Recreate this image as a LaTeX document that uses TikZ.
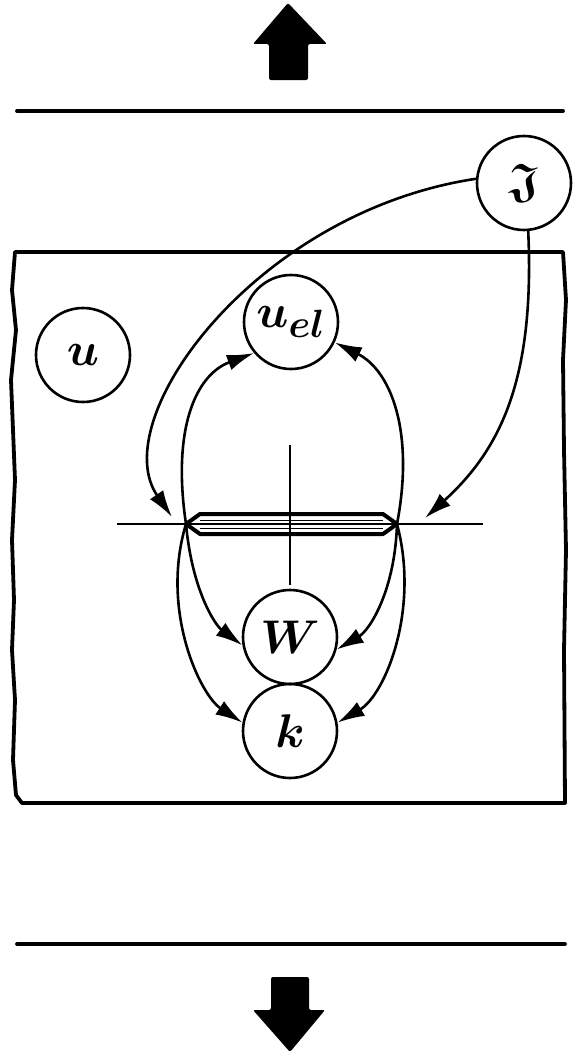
\documentclass[tikz,border=0pt]{standalone}
\usepackage{amssymb}
\usepackage{graphicx}
\usetikzlibrary{arrows.meta}
\newcommand{\statelbl}[1]{\scalebox{1.9}{$#1$}}

\begin{document}
\begin{tikzpicture}[x=1pt, y=-1pt,
    state/.style={draw, circle, line width=2.6pt, minimum size=94pt, inner sep=0pt, font=\Huge\boldmath},
    flow/.style={line width=2.6pt, -{Latex[length=27pt, width=16pt]}},
    bigarrow/.style={fill=black, rounded corners=2pt}]
    \useasboundingbox (0,0) rectangle (573,1057);
    % heat in / heat out
    \fill[bigarrow] (288,3) -- (327,44) -- (308,44) -- (308,80) -- (269,80) -- (269,44) -- (253,44) -- cycle;
    \draw[line width=3.8pt, line cap=round] (17,111) -- (563,111);
    \draw[line width=3.8pt, line cap=round] (17,944) -- (565,944);
    \fill[bigarrow] (290,1052) -- (253,1010) -- (271,1010) -- (271,977) -- (309,977) -- (309,1010) -- (325,1010) -- cycle;
    % the box
    \draw[line width=3.8pt, line join=round] (563,252) -- (15,252) -- (12,290) -- (16,330) -- (11,380) -- (13,430)
        -- (15,480) -- (12,540) -- (14,600) -- (12,650) -- (15,700) -- (13,760) -- (16,795) -- (22,803)
        -- (565,803) -- (564,650) -- (566,550) -- (564,450) -- (563,360) -- (566,300) -- cycle;
    % states
    \node[state] (J) at (524,183) {\statelbl{\mathfrak{J}}};
    \node[state] (U) at (83,355) {\statelbl{u}};
    \node[state] (Uel) at (291,322) {\statelbl{u_{el}}};
    \node[state] (W) at (290,637) {\statelbl{W}};
    \node[state] (k) at (290,731) {\statelbl{k}};
    % the bar
    \coordinate (capL) at (186,524);
    \coordinate (capR) at (397,524);
    \coordinate (jL) at (172,517);
    \coordinate (jR) at (425,518);
    \draw[line width=2pt] (117,524) -- (483,524);
    \draw[line width=2pt] (290,445) -- (290,585);
    \draw[line width=4pt, line join=round] (capL) -- (200,514) -- (383,514) -- (capR) -- (383,534) -- (200,534) -- cycle;
    \draw[line width=1pt] (200,520) -- (383,520);
    \draw[line width=1pt] (200,528) -- (383,528);
    % flows
    \draw[flow] (J.175) .. controls (255,212) and (105,420) .. (jL);
    \draw[flow] (J.-85) .. controls (535,380) and (500,450) .. (jR);
    \draw[flow] (capL) .. controls (172,430) and (195,375) .. (Uel.220);
    \draw[flow] (capR) .. controls (415,430) and (390,370) .. (Uel.-25);
    \draw[flow] (capL) .. controls (192,590) and (215,625) .. (W.190);
    \draw[flow] (capR) .. controls (395,590) and (370,630) .. (W.-15);
    \draw[flow] (capL) .. controls (160,610) and (200,695) .. (k.170);
    \draw[flow] (capR) .. controls (420,610) and (385,695) .. (k.10);
\end{tikzpicture}
\end{document}
